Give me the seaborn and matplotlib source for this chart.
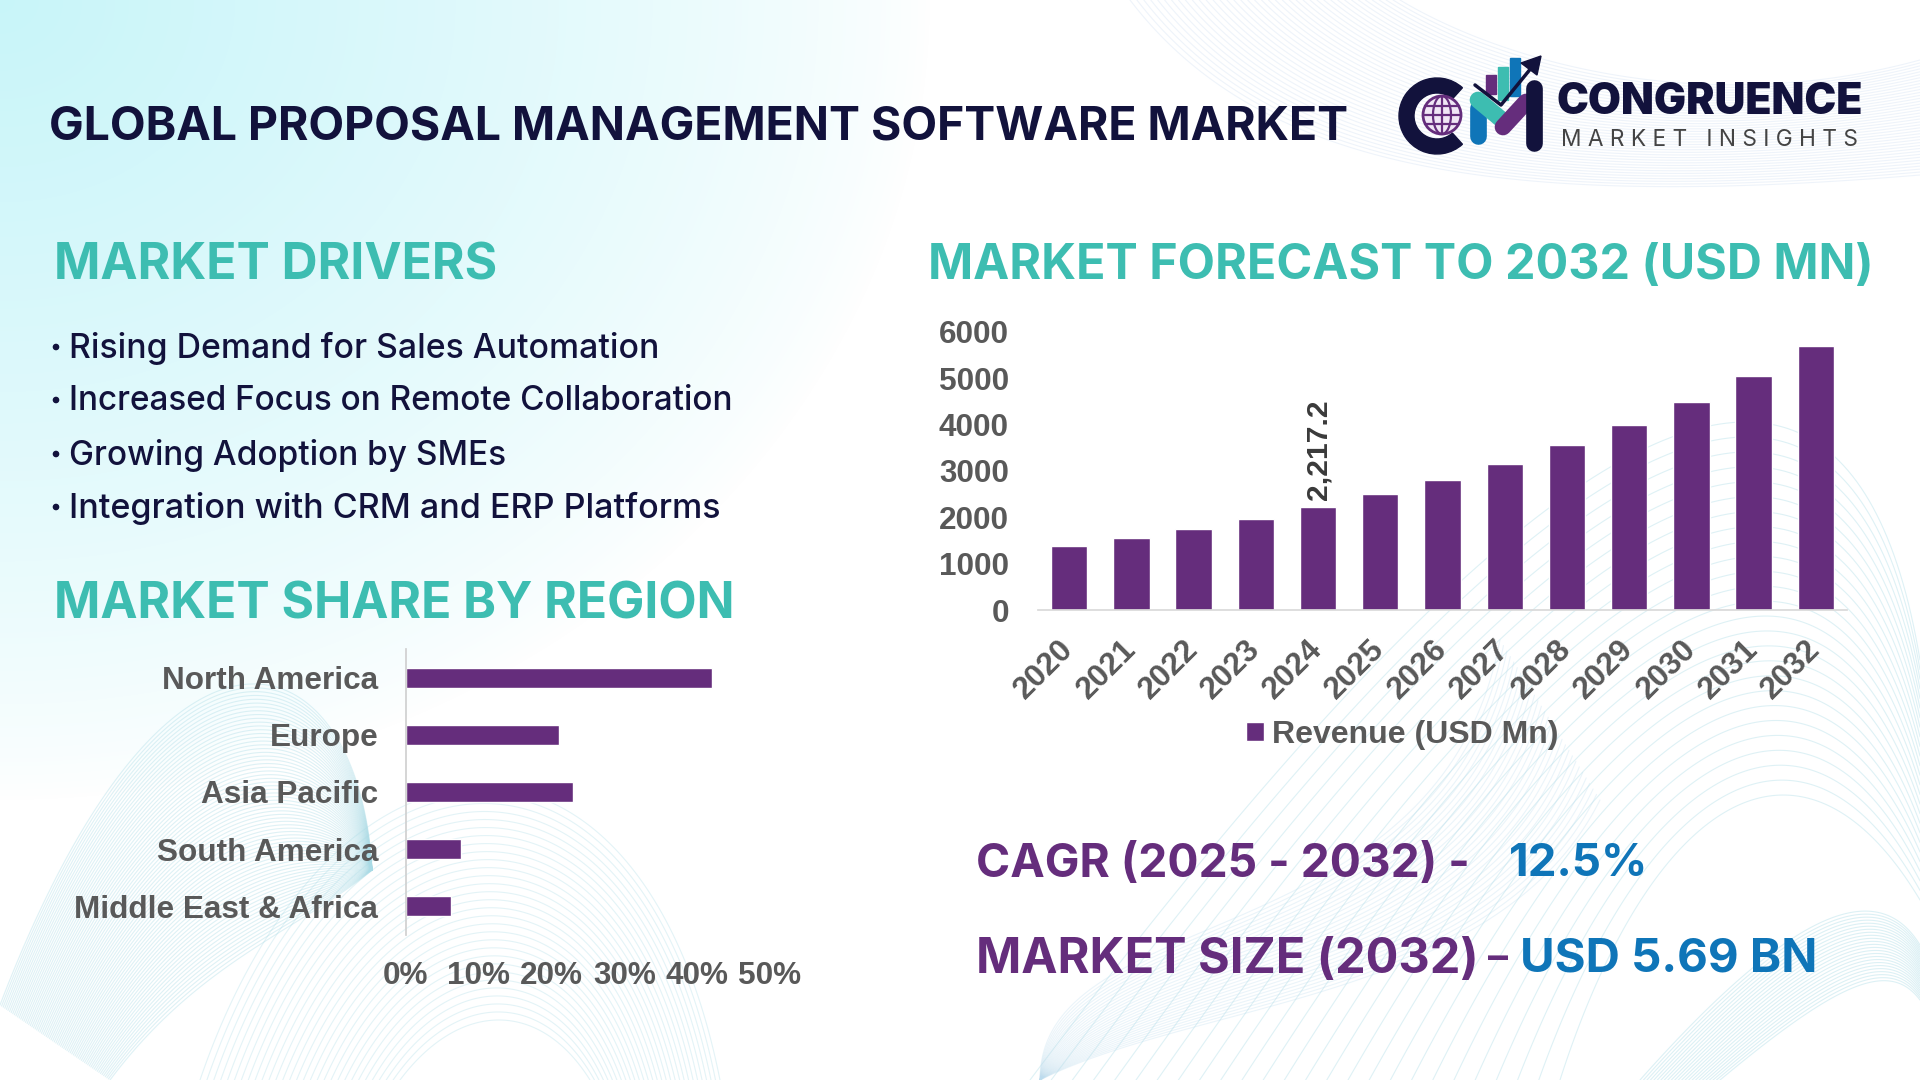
import numpy as np
import matplotlib
matplotlib.use("Agg")
import matplotlib.pyplot as plt
import seaborn as sns
from matplotlib.patches import Circle, Ellipse, Wedge, Polygon, Rectangle

# chart data
years = ["2020", "2021", "2022", "2023", "2024", "2025", "2026",
         "2027", "2028", "2029", "2030", "2031", "2032"]
revenue = [1384, 1557, 1752, 1971, 2217.2, 2494, 2806, 3157, 3552, 3996, 4495, 5057, 5690]
regions = ["North America", "Europe", "Asia Pacific", "South America", "Middle East & Africa"]
shares = [42.1, 21.0, 22.9, 7.5, 6.2]
drivers = ["Rising Demand for Sales Automation",
           "Increased Focus on Remote Collaboration",
           "Growing Adoption by SMEs",
           "Integration with CRM and ERP Platforms"]

PURPLE = "#652d7c"
TEAL = "#3dbdb1"
NAVY = "#12123c"
BLUE = "#0f75b8"
GRAY = "#595959"
W, H = 1920, 1080

sns.set_theme(style="white")
plt.rcParams["font.family"] = ["Liberation Sans", "DejaVu Sans"]

fig = plt.figure(figsize=(19.2, 10.8), dpi=100)
bg = fig.add_axes([0, 0, 1, 1], zorder=0)
bg.axis("off")

# pale cyan wash from the top left corner
yy, xx = np.mgrid[0:H, 0:W]
wash = np.clip(1 - np.sqrt((xx / 930) ** 2 + (yy / 800) ** 2), 0, 1) ** 0.75
img = np.zeros((H, W, 4))
img[..., :3] = np.array([200, 245, 249]) / 255
img[..., 3] = wash
bg.imshow(img, extent=(0, W, H, 0), aspect="auto", zorder=0)


def mesh(a, b, n, alpha, lw=0.8, color="#a9dbe6"):
    # family of bezier curves between two edge curves, background only
    a, b = np.array(a, float), np.array(b, float)
    t = np.linspace(0, 1, 120)[:, None]
    for s in np.linspace(0, 1, n):
        p = (1 - s) * a + s * b
        c = ((1 - t) ** 3 * p[0] + 3 * (1 - t) ** 2 * t * p[1]
             + 3 * (1 - t) * t ** 2 * p[2] + t ** 3 * p[3])
        bg.plot(c[:, 0], c[:, 1], color=color, lw=lw, alpha=alpha, zorder=1)


mesh([(1130, 0), (1260, 170), (1500, 210), (1920, 175)],
     [(1400, 0), (1500, 60), (1700, 120), (1920, 60)], 40, 0.28, color="#c3d6ee")
mesh([(0, 1005), (170, 560), (360, 640), (372, 870)],
     [(110, 1080), (200, 960), (300, 930), (372, 870)], 70, 0.38)
mesh([(200, 1080), (330, 700), (640, 680), (720, 1080)],
     [(400, 1080), (460, 1000), (540, 1000), (590, 1080)], 30, 0.32)
mesh([(1030, 1080), (1480, 480), (1840, 180), (1920, 660)],
     [(1560, 1080), (1650, 800), (1800, 700), (1920, 900)], 26, 0.38)
mesh([(1040, 1080), (1040, 900), (1440, 960), (1500, 640)],
     [(1040, 1080), (1200, 1000), (1500, 1000), (1600, 800)], 30, 0.3, color="#bcdcee")
mesh([(1640, 1080), (1800, 900), (1880, 880), (1920, 945)],
     [(1720, 1080), (1840, 980), (1890, 960), (1920, 1000)], 24, 0.4)
bg.set_xlim(0, W)
bg.set_ylim(H, 0)

renderer = fig.canvas.get_renderer()


def fit_text(x0, x1, yc, text, color, family="Inter", weight="bold"):
    # write text so that it spans x0..x1 in pixels
    t = bg.text(x0, yc, text, color=color, family=[family, "DejaVu Sans"], weight=weight,
                fontsize=20, ha="left", va="center_baseline", zorder=5)
    t.set_fontsize(20 * (x1 - x0) / t.get_window_extent(renderer).width)
    return t


fit_text(49, 1351, 122, "GLOBAL PROPOSAL MANAGEMENT SOFTWARE MARKET", NAVY)
fit_text(54, 498, 261, "MARKET DRIVERS", TEAL)
fit_text(54, 736, 600, "MARKET SHARE BY REGION", TEAL)
fit_text(928, 1873, 261, "MARKET FORECAST TO 2032 (USD MN)", TEAL)

drivers_right = [657, 733, 506, 719]
drivers_y = [345, 398, 452, 505]
for text, right, y in zip(drivers, drivers_right, drivers_y):
    bg.add_patch(Circle((56, y + 2), 2.6, color=NAVY, zorder=5))
    fit_text(69, right, y, text, NAVY, weight="medium")

fit_text(976, 1470, 860, "CAGR (2025 - 2032) -", PURPLE)
fit_text(1509, 1648, 860, "12.5%", BLUE)
fit_text(976, 1479, 955, "MARKET SIZE (2032)", PURPLE)
fit_text(1488, 1508, 955, "–", PURPLE)
fit_text(1520, 1818, 955, "USD 5.69 BN", BLUE)

# logo
bg.add_patch(Wedge((1437, 116), 38, 48, 312, width=15, color=NAVY, zorder=5))
bg.add_patch(Circle((1442, 115), 19, fc="#f0e6f5", ec=PURPLE, lw=2, zorder=5))
bg.add_patch(Ellipse((1442, 115), 18, 38, fc="none", ec=PURPLE, lw=1.6, zorder=6))
for dy in (-9, 0, 9):
    half = np.sqrt(19 ** 2 - dy ** 2)
    bg.plot([1442 - half, 1442 + half], [115 + dy, 115 + dy], color=PURPLE, lw=1.6, zorder=6)
bg.plot([1442, 1442], [96, 134], color=PURPLE, lw=1.6, zorder=6)
bg.add_patch(Rectangle((1486, 75), 10, 19, color=PURPLE, zorder=5))
bg.add_patch(Rectangle((1498, 67), 10, 33, color=TEAL, zorder=5))
bg.add_patch(Rectangle((1510, 58), 10, 38, color=BLUE, zorder=5))
bg.plot([1478, 1478], [108, 136], color=BLUE, lw=12, solid_capstyle="round", zorder=6)
bg.plot([1478, 1502], [100, 120], color=TEAL, lw=12, solid_capstyle="round", zorder=7)
bg.plot([1503, 1526], [127, 102], color=PURPLE, lw=12, solid_capstyle="round", zorder=7)
bg.plot([1534, 1534], [88, 143], color=NAVY, lw=12, solid_capstyle="round", zorder=8)
bg.plot([1475, 1501, 1532], [85, 105, 67], color=NAVY, lw=2.5, zorder=9)
bg.add_patch(Polygon([(1541, 56), (1521, 63), (1537, 75)], color=NAVY, zorder=9))
fit_text(1557, 1863, 98, "CONGRUENCE", NAVY, family="Inter", weight="black")
fit_text(1561, 1859, 138, "M A R K E T   I N S I G H T S", "#444444", family="Inter", weight="normal")

# market share by region
ax1 = fig.add_axes([406 / W, 1 - 935 / H, 364 / W, 286 / H], zorder=2)
ax1.patch.set_alpha(0)
sns.barplot(x=shares, y=regions, orient="h", color=PURPLE, width=0.35, saturation=1, ax=ax1)
ax1.set_xlim(0, 50)
ax1.set_xticks(range(0, 60, 10))
ax1.set_xticklabels([f"{v}%" for v in range(0, 60, 10)])
sns.despine(ax=ax1, top=True, right=True, bottom=True)
ax1.spines["left"].set_color("#d0d0d0")
ax1.tick_params(axis="y", length=0, pad=20, labelsize=22.7, labelcolor=GRAY)
ax1.tick_params(axis="x", length=0, pad=19, labelsize=22.7, labelcolor=GRAY)
for lab in ax1.get_xticklabels() + ax1.get_yticklabels():
    lab.set_fontweight("bold")

# market forecast
ax2 = fig.add_axes([1038 / W, 1 - 610 / H, 809 / W, 278 / H], zorder=2)
ax2.patch.set_alpha(0)
sns.barplot(x=years, y=revenue, color=PURPLE, width=0.585, saturation=1,
            label="Revenue (USD Mn)", ax=ax2)
ax2.set_ylim(0, 6000)
ax2.set_yticks(range(0, 7000, 1000))
sns.despine(ax=ax2, top=True, right=True, left=True)
ax2.spines["bottom"].set_color("#d9d9d9")
ax2.tick_params(axis="y", length=0, pad=21, labelsize=22.7, labelcolor=GRAY)
ax2.tick_params(axis="x", length=0, pad=25, labelsize=22.7, labelcolor=GRAY)
for lab in ax2.get_yticklabels():
    lab.set_fontweight("bold")
for lab in ax2.get_xticklabels():
    lab.set(rotation=45, ha="right", va="center", rotation_mode="anchor", fontweight="bold")

value_labels = [f"{v:,.1f}" if y == "2024" else "" for y, v in zip(years, revenue)]
ax2.bar_label(ax2.containers[0], labels=value_labels, rotation=90, padding=5,
              fontsize=21.6, color="#3a3a3a", fontweight="bold")

leg = ax2.legend(loc="center left", bbox_to_anchor=(1246 / W, 1 - 735 / H),
                 bbox_transform=fig.transFigure, frameon=False, borderpad=0, borderaxespad=0,
                 handlelength=0.55, handleheight=0.55, handletextpad=0.25,
                 prop={"size": 23, "weight": "bold"}, labelcolor=GRAY)

fig.savefig("out.png", dpi=100)
